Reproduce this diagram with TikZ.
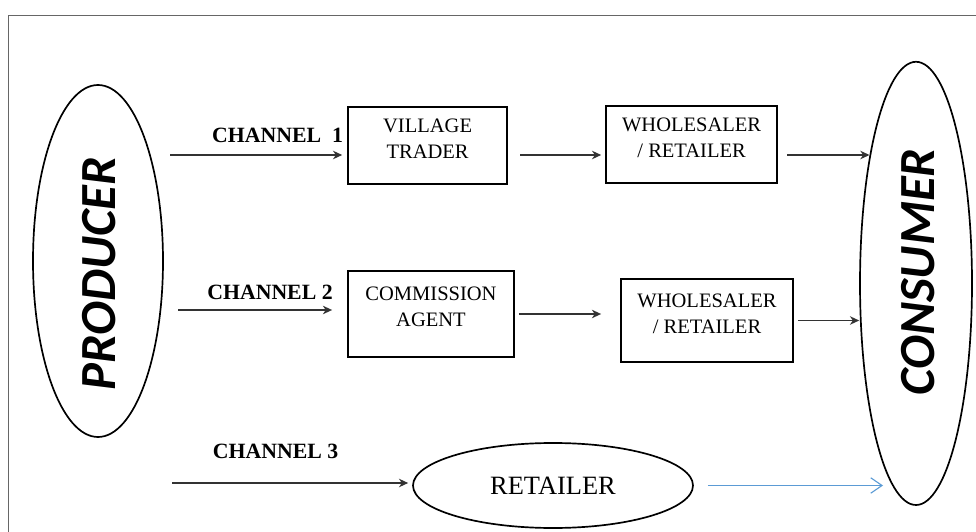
\documentclass[tikz,border=0pt]{standalone}
\usepackage{fontspec}
\setmainfont{Liberation Serif}
\newfontfamily\calibri{Carlito}
\usepackage{tikz}
\usetikzlibrary{shapes.geometric, arrows, arrows.meta, positioning}
\definecolor{sky}{RGB}{91,155,213}

\begin{document}
\begin{tikzpicture}[
    stagebox/.style={draw, rectangle, line width=1.3pt, align=center, inner sep=0pt,
        text depth=0.35cm, font=\fontsize{14.6}{18.5}\selectfont},
    party/.style={draw, ellipse, line width=1.2pt, inner sep=0pt},
    partyname/.style={rotate=90, inner sep=0pt, font=\calibri\bfseries\itshape\fontsize{36}{36}\selectfont},
    channel/.style={font=\bfseries\fontsize{15.5}{18}\selectfont},
    flow/.style={draw=black!80, line width=1.1pt, -{Stealth[length=6.5pt,width=6pt,inset=2pt]}},
    direct/.style={draw=sky, line width=0.8pt, -{Straight Barb[length=8pt,width=11pt]}}
]
    \useasboundingbox (0,0) rectangle (24.4,13.275);

    % page frame
    \draw[black!60, line width=0.6pt] (0.2,-0.5) -- (0.2,12.9) -- (25,12.9);

    % Producer and consumer
    \node[party, minimum width=3.25cm, minimum height=8.8cm] (producer) at (2.45,6.75) {};
    \node[partyname] (producer-name) at (2.475,6.425) {PRODUCER};
    \node[party, minimum width=2.8cm, minimum height=11.08cm] (consumer) at (22.9,6.19) {};
    \node[partyname] (consumer-name) at (22.95,6.475) {CONSUMER};

    % Channel 1
    \coordinate (c1) at (4.25,9.4);
    \node[channel] (ch1) at (6.94,9.9) {CHANNEL\ \ 1};
    \node[stagebox, minimum width=3.975cm, minimum height=1.925cm] (village) at (10.69,9.64) {VILLAGE\\TRADER};
    \node[stagebox, minimum width=4.275cm, minimum height=1.925cm] (whole1) at (17.29,9.66) {WHOLESALER\\/ RETAILER};
    \draw[flow, shorten >=0.125cm] (c1) -- (c1 -| village.west);
    \draw[flow, shorten <=0.3cm, shorten >=0.1cm] (c1 -| village.east) -- (c1 -| whole1.west);
    \draw[flow, shorten <=0.225cm] (c1 -| whole1.east) -- (c1 -| consumer.110);

    % Channel 2
    \coordinate (c2) at (4.45,5.525);
    \node[channel] (ch2) at (6.75,5.975) {CHANNEL 2};
    \node[stagebox, minimum width=4.15cm, minimum height=2.15cm] (comm) at (10.775,5.425) {COMMISSION\\AGENT};
    \node[stagebox, minimum width=4.3cm, minimum height=2.075cm] (whole2) at (17.675,5.2625) {WHOLESALER\\/ RETAILER};
    \draw[flow, shorten >=0.375cm] (c2) -- (c2 -| comm.west);
    \draw[flow, shorten <=0.1cm, shorten >=0.475cm] (comm.east) -- (comm.east -| whole2.west);
    \draw[flow, shorten <=0.1cm] (whole2.east) -- (whole2.east -| consumer.west);

    % Channel 3
    \coordinate (c3) at (4.3,1.2);
    \node[channel] (ch3) at (6.89,2.0) {CHANNEL 3};
    \node[party, minimum width=7cm, minimum height=2.125cm, font=\fontsize{18.8}{22}\selectfont] (retailer) at (13.825,1.1375) {RETAILER};
    \draw[flow, shorten >=0.1cm] (c3) -- (c3 -| retailer.west);
    \draw[direct, shorten <=0.35cm, shorten >=0.825cm] (retailer.east) -- (retailer.east -| consumer.south);

\end{tikzpicture}
\end{document}
